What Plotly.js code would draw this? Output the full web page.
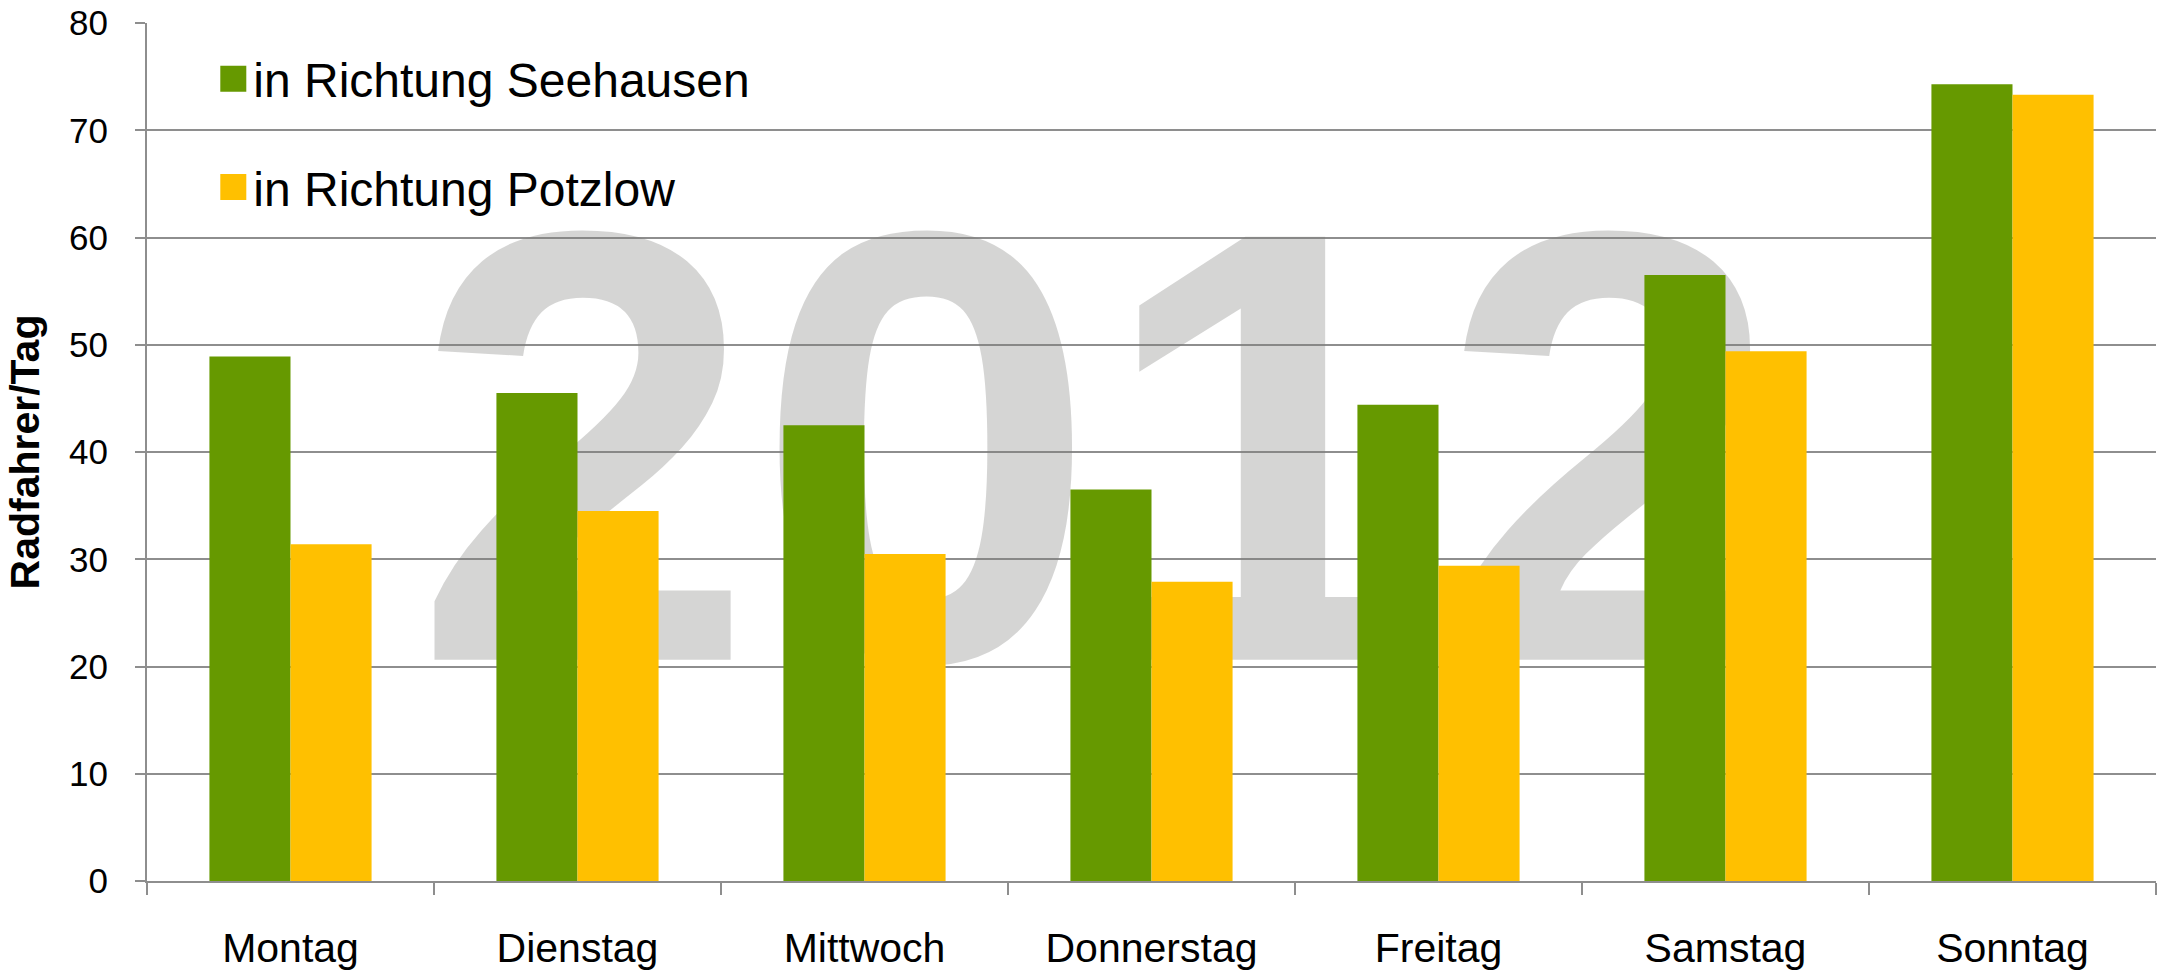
<!DOCTYPE html>
<html>
<head>
<meta charset="utf-8">
<script src="https://cdn.plot.ly/plotly-3.0.1.min.js"></script>
<style>
html,body{margin:0;padding:0;background:#ffffff;}
#chart{width:2163px;height:970px;}
</style>
</head>
<body>
<div id="chart"></div>
<script>
// ---- data ----
const days = ['Montag','Dienstag','Mittwoch','Donnerstag','Freitag','Samstag','Sonntag'];
const seehausen = [48.9, 45.5, 42.5, 36.5, 44.4, 56.5, 74.3];
const potzlow   = [31.4, 34.5, 30.5, 27.9, 29.4, 49.4, 73.3];
const seriesNames = ['in Richtung Seehausen', 'in Richtung Potzlow'];
const yTickVals = [0, 10, 20, 30, 40, 50, 60, 70, 80];
const yTitle = 'Radfahrer/Tag';
const watermarkText = '2012';

// ---- styles ----
const FONT = 'Liberation Sans, Arial, sans-serif';
const GREEN = '#669900';
const YELLOW = '#FFC000';
const GRID = '#8e8e8e';

const traces = [
  {
    type: 'scatter', mode: 'text',
    x: [0.473], y: [0.437],
    text: [watermarkText],
    textposition: 'middle center',
    textfont: {family: FONT, size: 615, color: 'rgba(125,125,122,0.32)', weight: 700},
    xaxis: 'x', yaxis: 'y',
    hoverinfo: 'skip', showlegend: false, cliponaxis: false
  },
  {
    type: 'bar', name: seriesNames[0],
    x: days, y: seehausen,
    marker: {color: GREEN, line: {width: 0}},
    xaxis: 'x2', yaxis: 'y2', legendgroup: 'a'
  },
  {
    type: 'bar', name: seriesNames[1],
    x: days, y: potzlow,
    marker: {color: YELLOW, line: {width: 0}},
    xaxis: 'x2', yaxis: 'y2', legendgroup: 'b'
  }
];

const layout = {
  width: 2163, height: 970,
  margin: {l: 146.5, r: 7, t: 23.3, b: 89},
  paper_bgcolor: '#ffffff', plot_bgcolor: 'rgba(0,0,0,0)',
  font: {family: FONT, color: '#000000'},
  barmode: 'group', bargap: 0.435, bargroupgap: 0,
  showlegend: true,
  legend: {
    x: 0.033, y: 0.979, xanchor: 'left', yanchor: 'top',
    font: {family: FONT, size: 48, color: '#000000'},
    bgcolor: 'rgba(0,0,0,0)', borderwidth: 0,
    tracegroupgap: 43, traceorder: 'grouped'
  },
  xaxis: {visible: false, range: [0, 1], fixedrange: true},
  yaxis: {visible: false, range: [0, 1], fixedrange: true},
  xaxis2: {
    overlaying: 'x', anchor: 'y2', type: 'category',
    showline: true, linecolor: GRID, linewidth: 2,
    ticks: 'outside', tickson: 'boundaries', ticklen: 12, tickwidth: 2, tickcolor: GRID,
    tickfont: {family: FONT, size: 41, color: '#000000'},
    ticklabelstandoff: 30,
    showgrid: false, zeroline: false, fixedrange: true
  },
  yaxis2: {
    overlaying: 'y', anchor: 'x2',
    range: [0, 80], tickvals: yTickVals,
    showline: true, linecolor: GRID, linewidth: 2,
    ticks: 'outside', ticklen: 10, tickwidth: 2, tickcolor: GRID,
    tickfont: {family: FONT, size: 35, color: '#000000'},
    ticklabelstandoff: 20,
    showgrid: true, gridcolor: GRID, gridwidth: 2,
    zeroline: false, fixedrange: true,
    title: {text: yTitle, font: {family: FONT, size: 41, color: '#000000', weight: 700}, standoff: 17}
  }
};

function enlargeLegendSwatches() {
  document.querySelectorAll('g.legend g.legendpoints path').forEach(function (p) {
    p.setAttribute('d', 'M13,13H-13V-13H13Z');
    p.style.strokeWidth = '0px';
  });
}

Plotly.newPlot('chart', traces, layout, {displayModeBar: false, staticPlot: true}).then(function () {
  enlargeLegendSwatches();
  setTimeout(enlargeLegendSwatches, 50);
});
</script>
</body>
</html>
